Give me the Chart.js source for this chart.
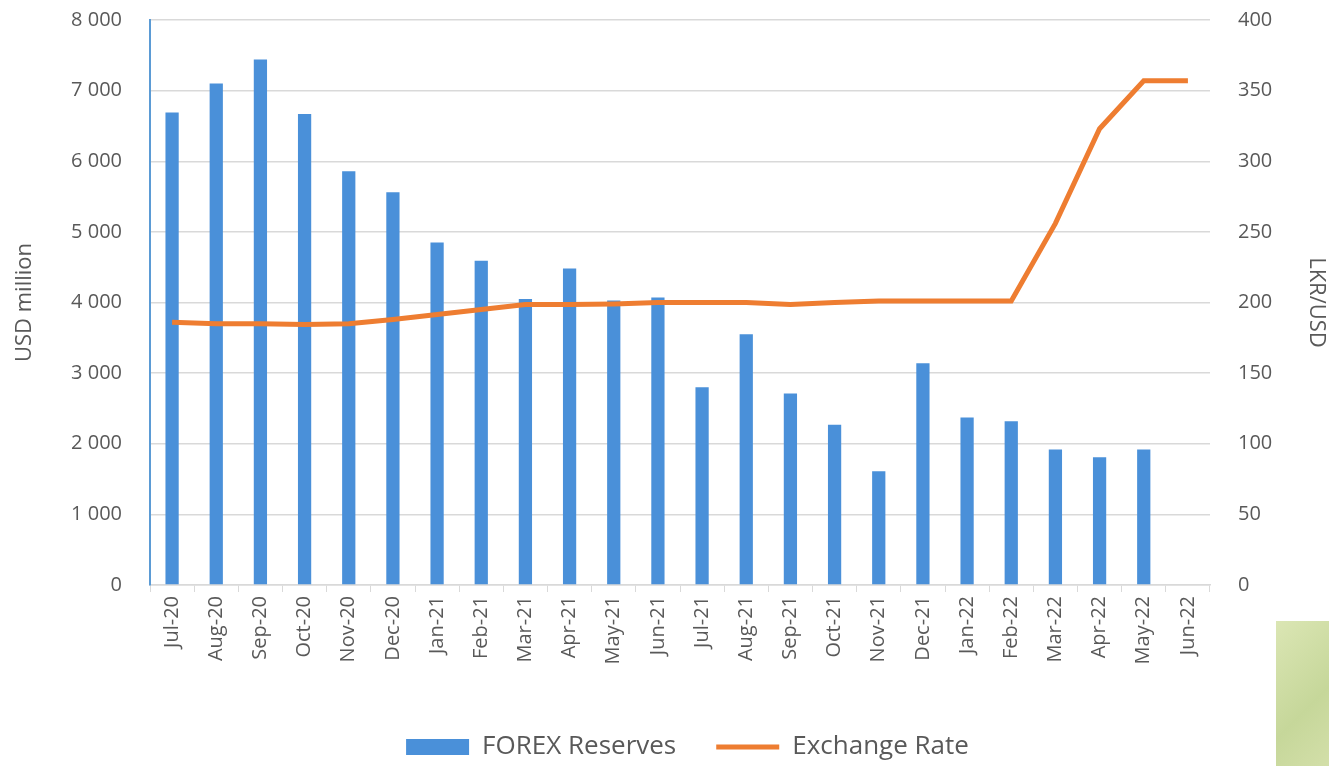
<!DOCTYPE html>
<html lang="en">
<head>
<meta charset="UTF-8">
<title>FOREX Reserves and Exchange Rate</title>
<script src="https://cdn.jsdelivr.net/npm/chart.js"></script>
<style>
    html, body { margin: 0; padding: 0; background: #ffffff; }
    #wrap { position: relative; width: 1329px; height: 766px; }
    #patch { position: absolute; left: 1276px; top: 621px; width: 53px; height: 145px;
             background: linear-gradient(135deg, #dbe6b4, #c6d79a 60%, #d3dfa9); }
</style>
</head>
<body>
<div id="wrap">
<canvas id="reserveChart" width="1329" height="766"></canvas>
<div id="patch"></div>
</div>

<script>
    const months = ['Jul-20', 'Aug-20', 'Sep-20', 'Oct-20', 'Nov-20', 'Dec-20',
        'Jan-21', 'Feb-21', 'Mar-21', 'Apr-21', 'May-21', 'Jun-21',
        'Jul-21', 'Aug-21', 'Sep-21', 'Oct-21', 'Nov-21', 'Dec-21',
        'Jan-22', 'Feb-22', 'Mar-22', 'Apr-22', 'May-22', 'Jun-22'];

    // USD million
    const forexReserves = [6690, 7100, 7440, 6670, 5860, 5560,
        4850, 4590, 4050, 4480, 4030, 4070,
        2800, 3550, 2710, 2270, 1610, 3140,
        2370, 2320, 1920, 1810, 1920, null];

    // LKR per USD
    const exchangeRate = [186, 185, 185, 184.5, 185, 188,
        191.5, 195, 198.5, 198.5, 199, 200,
        200, 200, 198.5, 200, 201, 201,
        201, 201, 256, 323, 357, 357];

    const textColor = '#595959';
    const gridColor = '#d9d9d9';
    const tickFont = { family: 'Open Sans', size: 20 };

    const spaced = (v) => String(v).replace(/\B(?=(\d{3})+(?!\d))/g, ' ');

    // tick padding would otherwise push the plot area down
    const trimPadding = (scale, width) => {
        scale.width = width;
        scale.paddingTop = 20;
        scale.paddingBottom = 0;
    };

    // nudge the legend a little right and down, like the original
    const legendShift = {
        id: 'legendShift',
        afterLayout(chart) {
            const lg = chart.legend;
            lg.left += 17; lg.right += 17;
            lg.top += 4; lg.bottom += 4;
        }
    };

    const ctx = document.getElementById('reserveChart').getContext('2d');
    const reserveChart = new Chart(ctx, {
        type: 'bar',
        data: {
            labels: months,
            datasets: [{
                type: 'bar',
                label: 'FOREX Reserves',
                data: forexReserves,
                backgroundColor: '#4a90d9',
                borderWidth: 0,
                pointStyle: 'rect',
                yAxisID: 'y',
                order: 1,
                categoryPercentage: 1,
                barPercentage: 0.3
            }, {
                type: 'line',
                label: 'Exchange Rate',
                data: exchangeRate,
                borderColor: '#ee7d31',
                backgroundColor: '#ee7d31',
                borderWidth: 5,
                pointRadius: 0,
                pointStyle: 'line',
                tension: 0,
                yAxisID: 'y1',
                order: 0
            }]
        },
        plugins: [legendShift],
        options: {
            responsive: false,
            animation: false,
            layout: { padding: { top: 0, left: 12, right: 0, bottom: 0 } },
            plugins: {
                tooltip: { enabled: false },
                legend: {
                    position: 'bottom',
                    labels: {
                        usePointStyle: true,
                        pointStyleWidth: 63,
                        boxHeight: 16,
                        padding: 40,
                        color: textColor,
                        font: { family: 'Open Sans', size: 26 },
                        sort: (a, b) => a.datasetIndex - b.datasetIndex
                    }
                }
            },
            scales: {
                x: {
                    grid: {
                        display: true,
                        drawOnChartArea: false,
                        drawTicks: true,
                        tickLength: 7,
                        color: gridColor
                    },
                    border: { color: gridColor, width: 1.5 },
                    ticks: {
                        color: textColor,
                        font: tickFont,
                        maxRotation: 90,
                        minRotation: 90,
                        autoSkip: false,
                        padding: 4
                    },
                    afterFit: (scale) => { scale.height = 105; }
                },
                y: {
                    position: 'left',
                    min: 0,
                    max: 8000,
                    grid: { color: gridColor, lineWidth: 1.5, drawTicks: false },
                    border: { color: '#5b9bd5', width: 2 },
                    ticks: {
                        stepSize: 1000,
                        color: textColor,
                        font: tickFont,
                        padding: 28,
                        callback: (v) => spaced(v)
                    },
                    title: {
                        display: true,
                        text: 'USD million',
                        color: textColor,
                        font: { family: 'Open Sans', size: 22 },
                        padding: 0
                    },
                    afterFit: (scale) => trimPadding(scale, 138)
                },
                y1: {
                    position: 'right',
                    min: 0,
                    max: 400,
                    grid: { drawOnChartArea: false, drawTicks: false },
                    border: { display: false },
                    ticks: {
                        stepSize: 50,
                        color: textColor,
                        font: tickFont,
                        padding: 28
                    },
                    title: {
                        display: true,
                        text: 'LKR/USD',
                        color: textColor,
                        font: { family: 'Open Sans', size: 22 },
                        padding: 0
                    },
                    afterFit: (scale) => trimPadding(scale, 119)
                }
            }
        }
    });
</script>
</body>
</html>
